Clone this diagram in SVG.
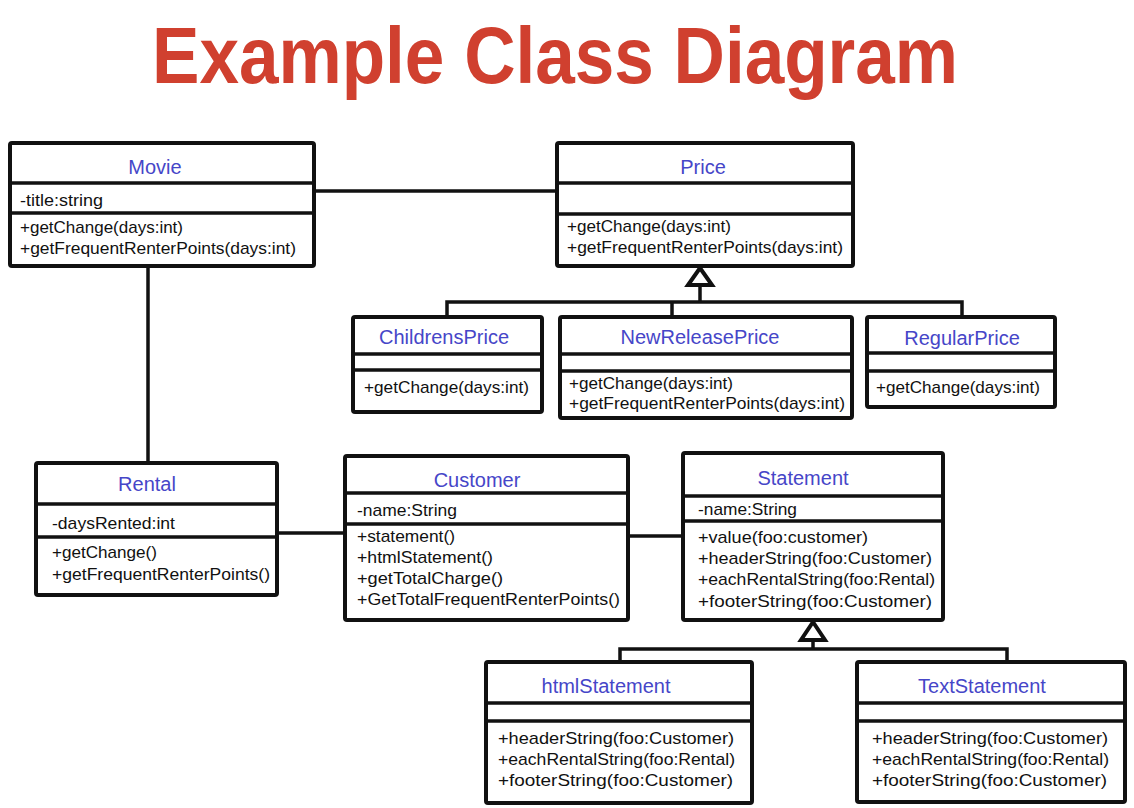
<svg xmlns="http://www.w3.org/2000/svg" width="1134" height="808" viewBox="0 0 1134 808">
<defs>
<style>
.box{fill:#fff;stroke:#111;stroke-width:4;stroke-linejoin:round}
.div{stroke:#111;stroke-width:3.5}
.con{fill:none;stroke:#111;stroke-width:3.5}
.tri{fill:#fff;stroke:#111;stroke-width:4;stroke-linejoin:miter}
.nm{font-family:"Liberation Sans",Arial,sans-serif;font-size:20px;fill:#4646c8;text-anchor:middle}
.t{font-family:"Liberation Sans",Arial,sans-serif;font-size:17px;fill:#111}
.title{font-family:"Liberation Sans",Arial,sans-serif;font-size:80px;font-weight:bold;fill:#d0402f}
</style>
</defs>
<rect width="1134" height="808" fill="#fff"/>
<text class="title" x="152" y="83" textLength="806" lengthAdjust="spacingAndGlyphs">Example Class Diagram</text>

<g id="connectors">
<line class="con" x1="314" y1="191" x2="557" y2="191"/>
<line class="con" x1="148" y1="266" x2="148" y2="463"/>
<line class="con" x1="277" y1="533" x2="345" y2="533"/>
<line class="con" x1="628" y1="536" x2="683" y2="536"/>
<polyline class="con" points="447,317 447,302 962,302 962,317"/>
<line class="con" x1="672" y1="302" x2="672" y2="317"/>
<line class="con" x1="700" y1="285" x2="700" y2="302"/>
<polygon class="tri" points="700,268 712,285 688,285"/>
<polyline class="con" points="620,662 620,649 1007,649 1007,662"/>
<line class="con" x1="813" y1="640" x2="813" y2="649"/>
<polygon class="tri" points="813,622 825,640 801,640"/>
</g>

<g id="movie">
<rect class="box" x="10" y="143" width="304" height="123" rx="2"/>
<line class="div" x1="10" y1="183" x2="314" y2="183"/>
<line class="div" x1="10" y1="213" x2="314" y2="213"/>
<text class="nm" x="155" y="174">Movie</text>
<text class="t" x="20" y="206" textLength="83" lengthAdjust="spacingAndGlyphs">-title:string</text>
<text class="t" x="20" y="233" textLength="163" lengthAdjust="spacingAndGlyphs">+getChange(days:int)</text>
<text class="t" x="20" y="254" textLength="276" lengthAdjust="spacingAndGlyphs">+getFrequentRenterPoints(days:int)</text>
</g>

<g id="price">
<rect class="box" x="557" y="143" width="296" height="123" rx="2"/>
<line class="div" x1="557" y1="183" x2="853" y2="183"/>
<line class="div" x1="557" y1="214" x2="853" y2="214"/>
<text class="nm" x="703" y="174">Price</text>
<text class="t" x="567" y="232" textLength="164" lengthAdjust="spacingAndGlyphs">+getChange(days:int)</text>
<text class="t" x="567" y="253" textLength="276" lengthAdjust="spacingAndGlyphs">+getFrequentRenterPoints(days:int)</text>
</g>

<g id="childrensprice">
<rect class="box" x="353" y="317" width="189" height="95" rx="2"/>
<line class="div" x1="353" y1="354" x2="542" y2="354"/>
<line class="div" x1="353" y1="370" x2="542" y2="370"/>
<text class="nm" x="444" y="344">ChildrensPrice</text>
<text class="t" x="364" y="393" textLength="165" lengthAdjust="spacingAndGlyphs">+getChange(days:int)</text>
</g>

<g id="newreleaseprice">
<rect class="box" x="560" y="317" width="292" height="101" rx="2"/>
<line class="div" x1="560" y1="354" x2="852" y2="354"/>
<line class="div" x1="560" y1="371" x2="852" y2="371"/>
<text class="nm" x="700" y="344">NewReleasePrice</text>
<text class="t" x="569" y="389" textLength="164" lengthAdjust="spacingAndGlyphs">+getChange(days:int)</text>
<text class="t" x="569" y="409" textLength="276" lengthAdjust="spacingAndGlyphs">+getFrequentRenterPoints(days:int)</text>
</g>

<g id="regularprice">
<rect class="box" x="867" y="317" width="188" height="90" rx="2"/>
<line class="div" x1="867" y1="353" x2="1055" y2="353"/>
<line class="div" x1="867" y1="371" x2="1055" y2="371"/>
<text class="nm" x="962" y="345">RegularPrice</text>
<text class="t" x="876" y="393" textLength="164" lengthAdjust="spacingAndGlyphs">+getChange(days:int)</text>
</g>

<g id="rental">
<rect class="box" x="36" y="463" width="241" height="132" rx="2"/>
<line class="div" x1="36" y1="504" x2="277" y2="504"/>
<line class="div" x1="36" y1="537" x2="277" y2="537"/>
<text class="nm" x="147" y="491">Rental</text>
<text class="t" x="52" y="529" textLength="123" lengthAdjust="spacingAndGlyphs">-daysRented:int</text>
<text class="t" x="52" y="558" textLength="105" lengthAdjust="spacingAndGlyphs">+getChange()</text>
<text class="t" x="52" y="580" textLength="218" lengthAdjust="spacingAndGlyphs">+getFrequentRenterPoints()</text>
</g>

<g id="customer">
<rect class="box" x="345" y="456" width="283" height="164" rx="2"/>
<line class="div" x1="345" y1="493" x2="628" y2="493"/>
<line class="div" x1="345" y1="524" x2="628" y2="524"/>
<text class="nm" x="477" y="487">Customer</text>
<text class="t" x="357" y="516" textLength="100" lengthAdjust="spacingAndGlyphs">-name:String</text>
<text class="t" x="357" y="542" textLength="98" lengthAdjust="spacingAndGlyphs">+statement()</text>
<text class="t" x="357" y="563" textLength="136" lengthAdjust="spacingAndGlyphs">+htmlStatement()</text>
<text class="t" x="357" y="584" textLength="146" lengthAdjust="spacingAndGlyphs">+getTotalCharge()</text>
<text class="t" x="357" y="605" textLength="263" lengthAdjust="spacingAndGlyphs">+GetTotalFrequentRenterPoints()</text>
</g>

<g id="statement">
<rect class="box" x="683" y="453" width="260" height="167" rx="2"/>
<line class="div" x1="683" y1="496" x2="943" y2="496"/>
<line class="div" x1="683" y1="521" x2="943" y2="521"/>
<text class="nm" x="803" y="485">Statement</text>
<text class="t" x="698" y="515" textLength="99" lengthAdjust="spacingAndGlyphs">-name:String</text>
<text class="t" x="698" y="543" textLength="170" lengthAdjust="spacingAndGlyphs">+value(foo:customer)</text>
<text class="t" x="698" y="564" textLength="234" lengthAdjust="spacingAndGlyphs">+headerString(foo:Customer)</text>
<text class="t" x="698" y="585" textLength="237" lengthAdjust="spacingAndGlyphs">+eachRentalString(foo:Rental)</text>
<text class="t" x="698" y="607" textLength="234" lengthAdjust="spacingAndGlyphs">+footerString(foo:Customer)</text>
</g>

<g id="htmlstatement">
<rect class="box" x="486" y="662" width="266" height="141" rx="2"/>
<line class="div" x1="486" y1="703" x2="752" y2="703"/>
<line class="div" x1="486" y1="721" x2="752" y2="721"/>
<text class="nm" x="606" y="693">htmlStatement</text>
<text class="t" x="498" y="744" textLength="236" lengthAdjust="spacingAndGlyphs">+headerString(foo:Customer)</text>
<text class="t" x="498" y="765" textLength="237" lengthAdjust="spacingAndGlyphs">+eachRentalString(foo:Rental)</text>
<text class="t" x="498" y="786" textLength="235" lengthAdjust="spacingAndGlyphs">+footerString(foo:Customer)</text>
</g>

<g id="textstatement">
<rect class="box" x="857" y="662" width="268" height="140" rx="2"/>
<line class="div" x1="857" y1="703" x2="1125" y2="703"/>
<line class="div" x1="857" y1="721" x2="1125" y2="721"/>
<text class="nm" x="982" y="693">TextStatement</text>
<text class="t" x="872" y="744" textLength="236" lengthAdjust="spacingAndGlyphs">+headerString(foo:Customer)</text>
<text class="t" x="872" y="765" textLength="237" lengthAdjust="spacingAndGlyphs">+eachRentalString(foo:Rental)</text>
<text class="t" x="872" y="786" textLength="235" lengthAdjust="spacingAndGlyphs">+footerString(foo:Customer)</text>
</g>
</svg>
